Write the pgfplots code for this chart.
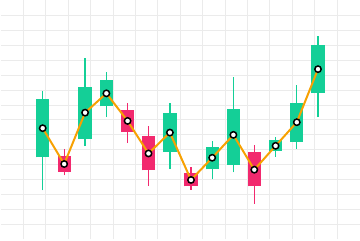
\documentclass[border=0pt]{standalone}
\usepackage{pgfplots}
\usepackage{pgfplotstable}
\pgfplotsset{compat=1.18}
\definecolor{cgreen}{HTML}{14CF97}
\definecolor{cred}{HTML}{F2296E}
\definecolor{corange}{HTML}{F7A102}
\definecolor{cgrid}{HTML}{EBEBEB}
\pgfplotstableread{
x lo hi blo bhi
41.7 49.3 149 82.3 141
84.3 93.7 182 100.7 153
105.7 122.7 167.7 133.7 159.7
169.5 70.7 137 87.7 126.7
212 60.3 99 70.3 93
233.3 67.3 162.7 75 131.3
275.7 83 103 88.3 99.7
297 91 155.3 98.3 136.7
318.3 122.7 204.3 147 195.3
}\greencandles
\pgfplotstableread{
x lo hi blo bhi
63.3 64.3 91 68 83.3
127 96.7 137 107.7 130.3
148 54 113.7 69.3 104.3
190.7 49.7 73 53.3 66.7
254.3 36 95.3 53.3 87.7
}\redcandles
\pgfplotsset{candle/.style 2 args={draw=none, mark=none, forget plot,
  error bars/.cd, y dir=plus, y explicit, error mark=none,
  error bar style={line width=#1, draw=#2, solid}}}
\begin{document}
\begin{tikzpicture}
\begin{axis}[
  scale only axis, width=360bp, height=240bp,
  xmin=0, xmax=360, ymin=0, ymax=240,
  xtick={22.5,45,...,340}, ytick={15,30,...,230},
  xticklabels={}, yticklabels={},
  tick label style={inner sep=0pt},
  major tick length=0pt,
  grid=major, grid style={draw=cgrid, line width=1bp},
  axis line style={draw=none},
]
% wicks
\addplot[candle={1.3bp}{cgreen}]
  table[x=x, y=lo, y error plus expr=\thisrow{hi}-\thisrow{lo}] {\greencandles};
\addplot[candle={1.3bp}{cred}]
  table[x=x, y=lo, y error plus expr=\thisrow{hi}-\thisrow{lo}] {\redcandles};
% bodies
\addplot[candle={13.3bp}{cgreen}]
  table[x=x, y=blo, y error plus expr=\thisrow{bhi}-\thisrow{blo}] {\greencandles};
\addplot[candle={13.3bp}{cred}]
  table[x=x, y=blo, y error plus expr=\thisrow{bhi}-\thisrow{blo}] {\redcandles};
% line
\addplot[corange, line width=2bp, mark=*, mark size=3.2bp,
  mark options={fill=white, draw=black, line width=1.5bp}]
  coordinates {(41.7,111.7)(63.3,75.7)(84.3,127.3)(105.7,146.7)(127,119)(148,86.3)(169.5,107.3)(190.7,59.7)(212,82)(233.3,105)(254.3,70)(275.7,94)(297,117.7)(318.3,171)};
\end{axis}
\end{tikzpicture}
\end{document}
